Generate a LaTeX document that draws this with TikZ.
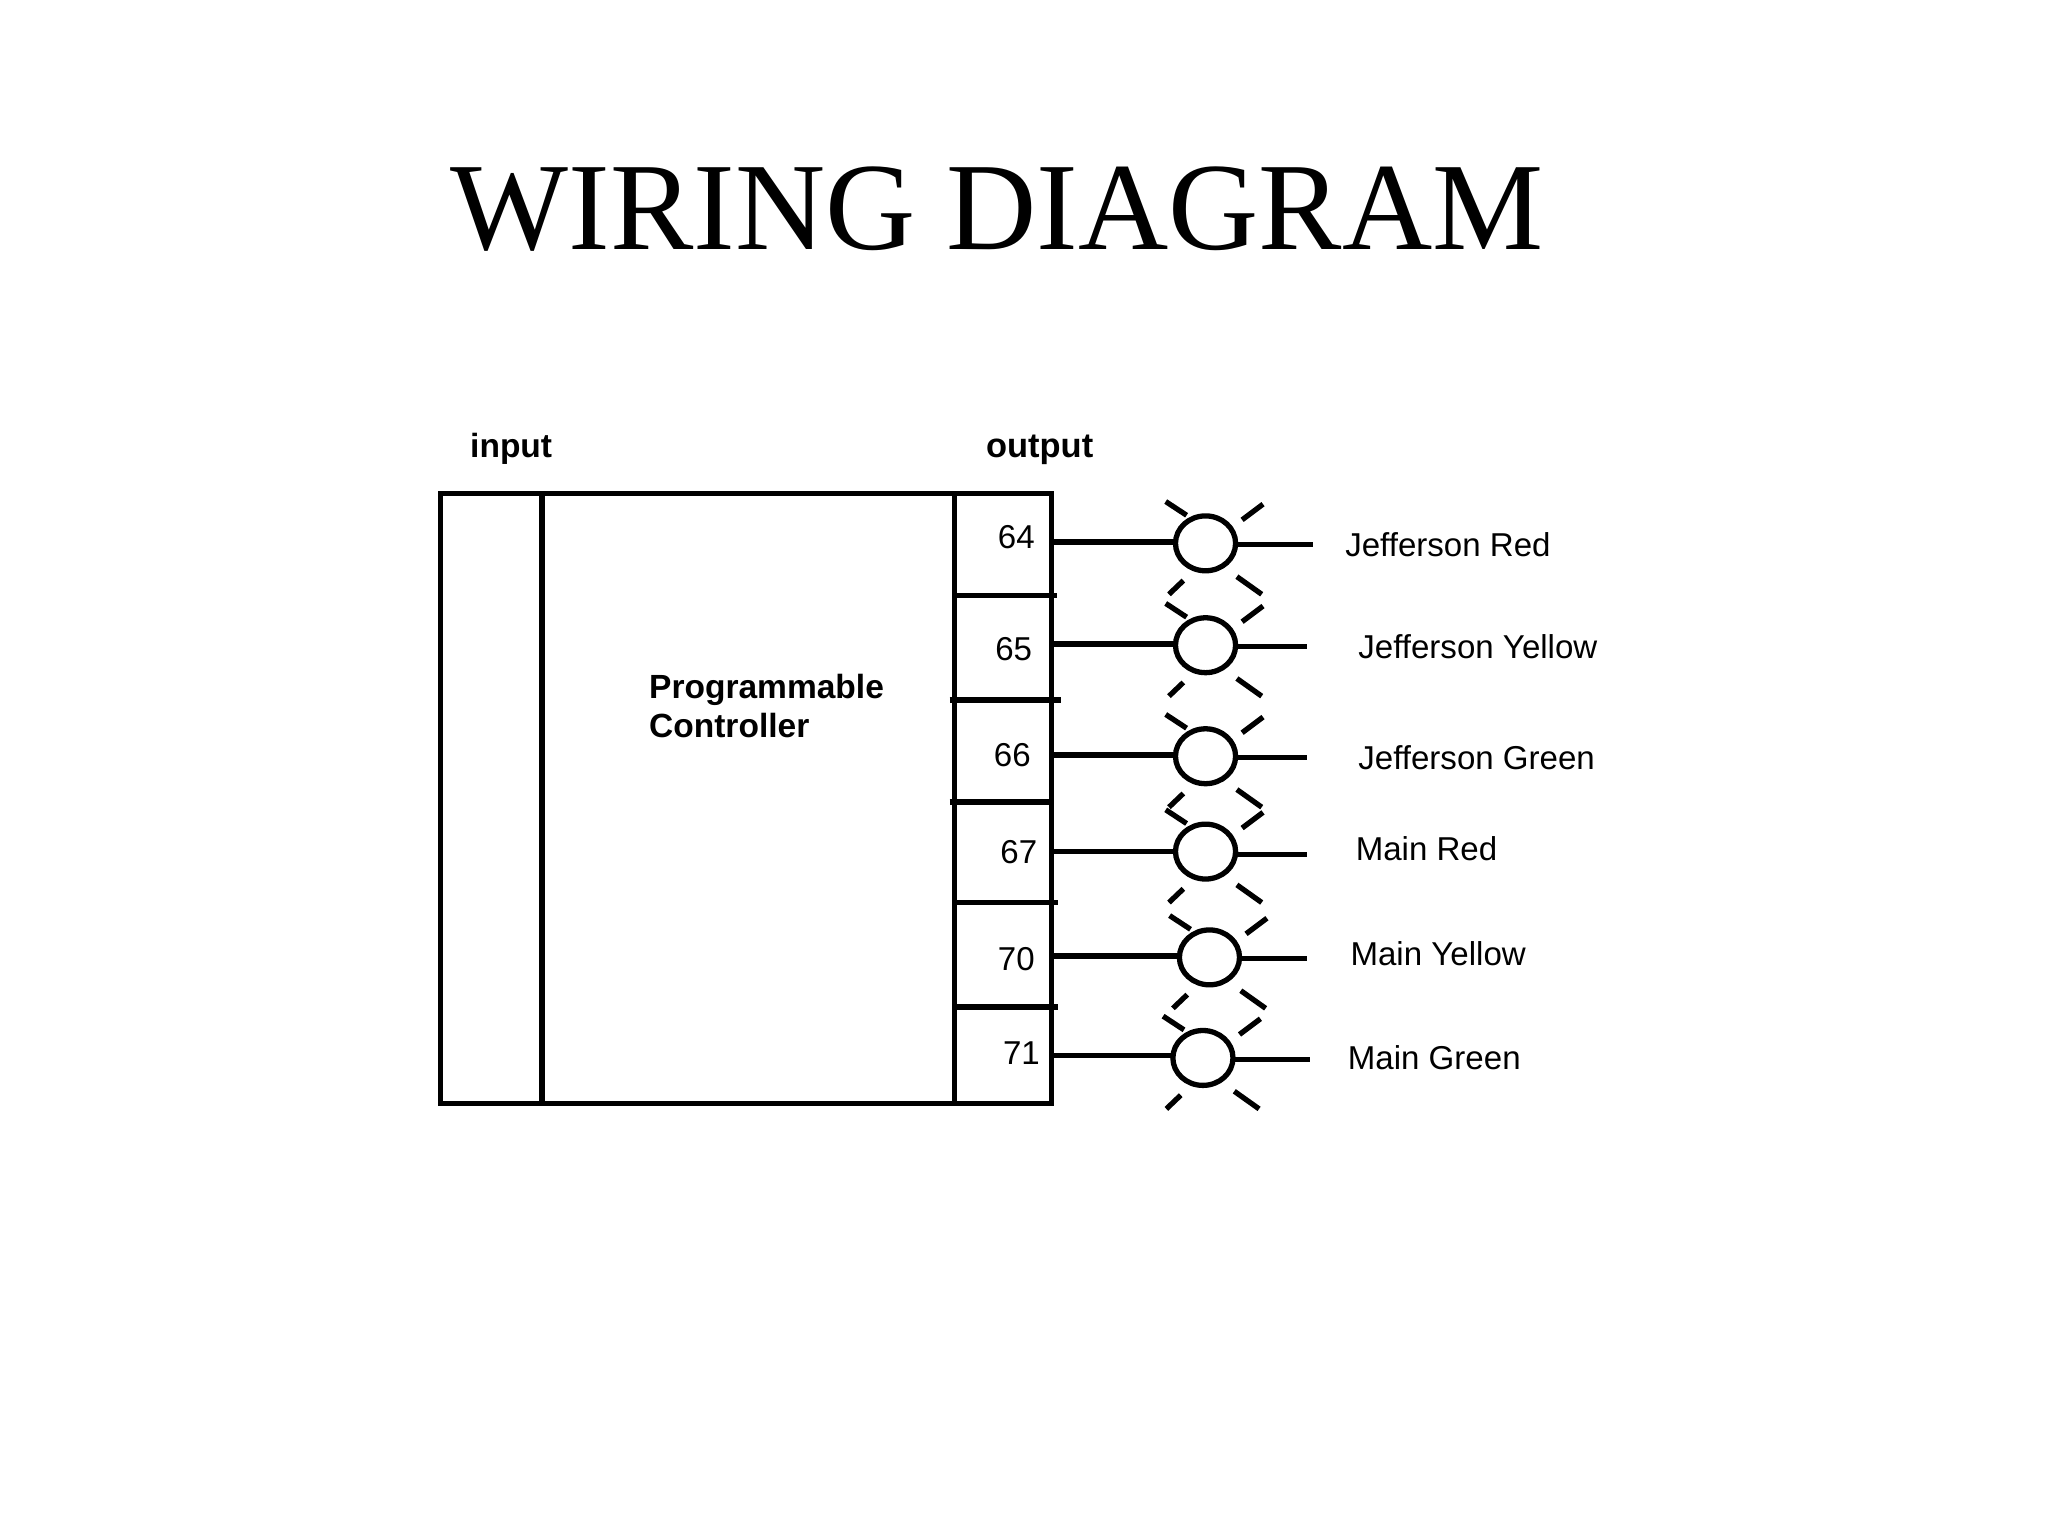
\documentclass[tikz,border=0pt]{standalone}
\usepackage{fontspec}
\setmainfont{Liberation Sans}
\newfontfamily\titlefont{Liberation Serif}
\usetikzlibrary{shapes.geometric}
\tikzset{
  wire/.style={line width=1.15pt,line cap=butt},
  ray/.style={line width=1.15pt,line cap=butt},
  lamp/.style={draw,ellipse,line width=1.15pt,minimum width=0.46cm,minimum height=0.42cm,inner sep=0pt,outer sep=0pt},
  txt/.style={inner sep=0pt,outer sep=0pt,anchor=base west,font=\fontsize{7.2pt}{8pt}\selectfont,text=black},
  bold/.style={txt,font=\fontsize{7.3pt}{8pt}\selectfont\bfseries},
}
\begin{document}
\begin{tikzpicture}[x=0.01cm,y=-0.01cm]
\useasboundingbox (0,0) rectangle (1568,1176);
\node[inner sep=0pt,outer sep=0pt,anchor=base west,font=\fontsize{27.2pt}{30pt}\selectfont\titlefont] (title) at (345,191) {WIRING DIAGRAM};
\node[bold] (input) at (360,350) {input};
\node[bold,font=\fontsize{7.5pt}{8pt}\selectfont\bfseries] (output) at (755,350) {output};
\node[bold] (prog) at (497,535) {Programmable};
\node[bold] (ctrl) at (497,565) {Controller};
% controller box
\draw[wire] (337,378) rectangle (805,845);
\draw[wire] (415,378) -- (415,845);
\draw[wire] (731,378) -- (731,845);
\draw[wire] (731,456) -- (809,456);
\draw[wire] (727,536) -- (812,536);
\draw[wire] (727,614) -- (805,614);
\draw[wire] (731,691) -- (810,691);
\draw[wire] (731,771) -- (810,771);
\foreach \n/\cx/\cy/\ly/\ry/\ex/\lab/\lx/\lby/\num/\nx/\ny in {
  a/923/416/415/417/1005/{Jefferson Red}/1030/426/64/764/420,
  b/923/494/493/495/1001/{Jefferson Yellow}/1040/504/65/762/506,
  c/923/579/578/580/1001/{Jefferson Green}/1040/589/66/761/587,
  d/923/652/652/654/1001/{Main Red}/1038/659/67/766/661,
  e/926/733/732/734/1001/{Main Yellow}/1034/739/70/764/743,
  f/921/810/808/811/1003/{Main Green}/1032/819/71/768/815}{
  \node[lamp] (lamp\n) at (\cx,\cy) {};
  \coordinate (src\n) at (805,\ly);
  \coordinate (end\n) at (\ex,\ry);
  \draw[wire] (src\n) -- (lamp\n.west |- src\n);
  \draw[wire] (lamp\n.east |- end\n) -- (end\n);
  \node[txt] (label\n) at (\lx,\lby) {\lab};
  \node[txt] (num\n) at (\nx,\ny) {\num};
  \draw[ray] (\cx-30.5,\cy-32) -- (\cx-14.5,\cy-21.5);
  \draw[ray] (\cx+44,\cy-30) -- (\cx+28,\cy-18);
  \draw[ray] (\cx-28,\cy+39) -- (\cx-17,\cy+28.5);
  \draw[ray] (\cx+24,\cy+25.5) -- (\cx+43,\cy+39);
}
\end{tikzpicture}
\end{document}
